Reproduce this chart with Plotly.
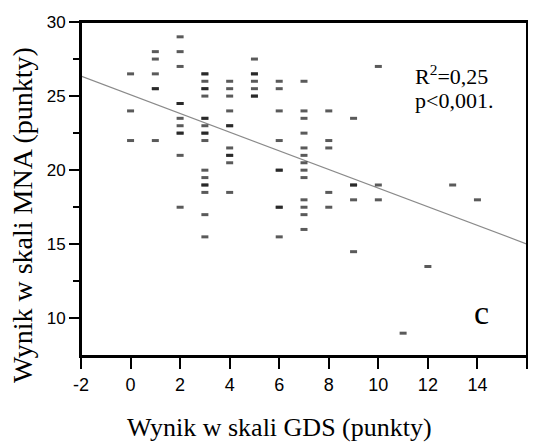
import plotly.graph_objects as go

# GDS score (x) and MNA score (y) per patient, read column by column
gds_score = ([0] * 3 + [1] * 6 + [2] * 11 + [3] * 19 + [4] * 11 + [5] * 7 + [6] * 9
             + [7] * 13 + [8] * 5 + [9] * 5 + [10] * 3 + [11, 12, 13, 14])
mna_score = [26.5, 24, 22,
             28, 27.5, 26.5, 25.5, 25.5, 22,
             29, 28, 27, 24.5, 24.5, 23.5, 23, 22.5, 22.5, 21, 17.5,
             26.5, 26.5, 26, 25.5, 25.5, 25, 23.5, 23.5, 23, 22.5, 22.5, 22, 20, 19.5, 19, 19, 18.5, 17, 15.5,
             26, 25.5, 25, 24, 23, 23, 21.5, 21, 21, 20.5, 18.5,
             27.5, 26.5, 26.5, 26, 25.5, 25, 25,
             26, 25.5, 24, 22, 20, 20, 17.5, 17.5, 15.5,
             26, 24, 23.5, 22.5, 21.5, 21, 20.5, 20, 19.5, 18, 17.5, 17, 16,
             24, 22, 21.5, 18.5, 17.5,
             23.5, 19, 19, 18, 14.5,
             27, 19, 18,
             9, 13.5, 19, 18]

x_ticks = [-2, 0, 2, 4, 6, 8, 10, 12, 14, 16]
x_ticktext = ["-2", "0", "2", "4", "6", "8", "10", "12", "14", "16"]
y_ticks = [10, 15, 20, 25, 30]
y_minor_ticks = [12.5, 17.5, 22.5, 27.5]

# regression line y = a + b*x
fit_intercept = 25.09
fit_slope = -0.63
fit_x = [-2, 16]
fit_y = [fit_intercept + fit_slope * x for x in fit_x]

serif = "Liberation Serif, Times New Roman, serif"
sans = "Liberation Sans, Arial, sans-serif"

fig = go.Figure()
fig.add_trace(go.Scatter(x=fit_x, y=fit_y, mode="lines",
                         line=dict(color="#8a8a8a", width=1.2), hoverinfo="skip"))
fig.add_trace(go.Scatter(x=gds_score, y=mna_score, mode="markers",
                         marker=dict(symbol="line-ew", size=5,
                                     line=dict(color="rgba(20,20,20,0.7)", width=3))))

# the page body adds an 8px margin, so the figure is sized to what stays visible
fig.update_layout(
    width=528, height=439,
    margin=dict(l=73, r=9, t=14, b=91),
    plot_bgcolor="white", paper_bgcolor="white",
    showlegend=False,
    xaxis=dict(range=[-2, 16], tickvals=x_ticks, ticktext=x_ticktext, automargin=False,
               ticks="outside", ticklen=11, tickwidth=2, tickcolor="black",
               showline=True, linecolor="black", linewidth=2, mirror=True,
               showgrid=False, zeroline=False,
               tickfont=dict(family=sans, size=18, color="black")),
    yaxis=dict(range=[7.46, 30], tickvals=y_ticks, automargin=False,
               ticks="outside", ticklen=10, tickwidth=2, tickcolor="black",
               minor=dict(tickvals=y_minor_ticks, ticks="outside",
                          ticklen=6, tickwidth=2, tickcolor="black"),
               showline=True, linecolor="black", linewidth=2, mirror=True,
               showgrid=False, zeroline=False,
               tickfont=dict(family=sans, size=17, color="black")),
    shapes=[dict(type="rect", xref="paper", yref="paper", x0=0, y0=0, x1=1, y1=1,
                 line=dict(color="black", width=2), layer="above")],
    annotations=[
        dict(x=0.444, y=-0.2126, xref="paper", yref="paper", xanchor="center", yanchor="middle",
             text="Wynik w skali GDS (punkty)", showarrow=False,
             font=dict(family=serif, size=26, color="black")),
        dict(x=-0.1323, y=0.422, xref="paper", yref="paper", xanchor="center", yanchor="middle",
             text="Wynik w skali MNA (punkty)", showarrow=False, textangle=-90,
             font=dict(family=serif, size=28, color="black")),
        dict(x=0.745, y=0.84, xref="paper", yref="paper", xanchor="left", yanchor="middle",
             text="R<sup>2</sup>=0,25", showarrow=False,
             font=dict(family=serif, size=22, color="black")),
        dict(x=0.745, y=0.766, xref="paper", yref="paper", xanchor="left", yanchor="middle",
             text="p<0,001.", showarrow=False,
             font=dict(family=serif, size=22, color="black")),
        dict(x=0.8975, y=0.131, xref="paper", yref="paper", xanchor="center", yanchor="middle",
             text="c", showarrow=False,
             font=dict(family=serif, size=34, color="black")),
    ],
)

fig.write_html("out.html")
